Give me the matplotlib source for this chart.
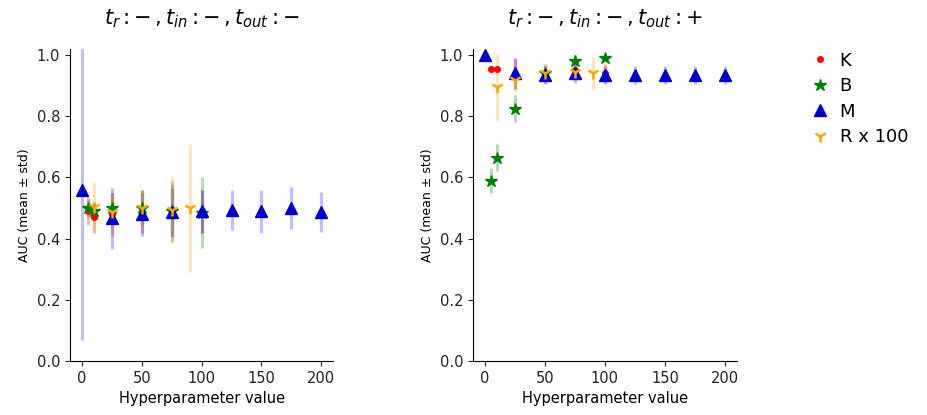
import matplotlib
matplotlib.use("Agg")
import matplotlib.pyplot as plt
from matplotlib.colors import to_rgba
from matplotlib.lines import Line2D

titles = [r"$t_r: -\,, t_{in}: -\,, t_{out}: -$", r"$t_r: -\,, t_{in}: -\,, t_{out}: +$"]

# Left panel (t_out: -)
k_x_l = [5, 10, 25, 50, 75, 100]
k_y_l = [0.49, 0.47, 0.48, 0.49, 0.495, 0.49]
k_s_l = [0.045, 0.05, 0.07, 0.07, 0.085, 0.07]
b_x_l = [5, 10, 25, 50, 75, 100]
b_y_l = [0.50, 0.49, 0.50, 0.50, 0.49, 0.485]
b_s_l = [0.03, 0.03, 0.05, 0.06, 0.10, 0.115]
m_x_l = [0, 25, 50, 75, 100, 125, 150, 175, 200]
m_y_l = [0.56, 0.467, 0.48, 0.487, 0.49, 0.493, 0.49, 0.50, 0.487]
m_s_l = [0.49, 0.10, 0.07, 0.08, 0.07, 0.065, 0.07, 0.07, 0.065]
r_x_l = [10, 25, 50, 75, 90]
r_y_l = [0.505, 0.487, 0.50, 0.495, 0.50]
r_s_l = [0.08, 0.06, 0.06, 0.11, 0.21]

# Right panel (t_out: +)
k_x_r = [5, 10, 25, 50, 75, 100]
k_y_r = [0.955, 0.955, 0.94, 0.94, 0.95, 0.94]
k_s_r = [0.005, 0.005, 0.05, 0.03, 0.03, 0.03]
b_x_r = [5, 10, 25, 50, 75, 100]
b_y_r = [0.59, 0.665, 0.825, 0.94, 0.98, 0.99]
b_s_r = [0.04, 0.045, 0.045, 0.02, 0.02, 0.01]
m_x_r = [0, 25, 50, 75, 100, 125, 150, 175, 200]
m_y_r = [1.0, 0.94, 0.935, 0.94, 0.935, 0.935, 0.935, 0.935, 0.935]
m_s_r = [0.002, 0.05, 0.03, 0.03, 0.03, 0.03, 0.03, 0.03, 0.03]
r_x_r = [10, 25, 50, 75, 90]
r_y_r = [0.895, 0.92, 0.94, 0.945, 0.94]
r_s_r = [0.11, 0.04, 0.03, 0.03, 0.055]

labels = ["K", "B", "M", "R x 100"]
colors = ["red", "green", "mediumblue", "orange"]
markers = ["o", "*", "^", "1"]
msizes = [4, 9, 9, 9]

panels = [
    [(k_x_l, k_y_l, k_s_l), (b_x_l, b_y_l, b_s_l), (m_x_l, m_y_l, m_s_l), (r_x_l, r_y_l, r_s_l)],
    [(k_x_r, k_y_r, k_s_r), (b_x_r, b_y_r, b_s_r), (m_x_r, m_y_r, m_s_r), (r_x_r, r_y_r, r_s_r)],
]

fig = plt.figure(figsize=(9.27, 4.15), dpi=100)
ax1 = fig.add_axes([0.0755, 0.130, 0.284, 0.752])
ax2 = fig.add_axes([0.510, 0.130, 0.285, 0.752])
axes = [ax1, ax2]

for ax, series, title in zip(axes, panels, titles):
    for (x, y, s), lab, c, mk, ms in zip(series, labels, colors, markers, msizes):
        ecol = to_rgba("blue", 0.25) if c == "mediumblue" else to_rgba(c, 0.28)
        ax.errorbar(x, y, yerr=s, fmt=mk, color=c, ecolor=ecol,
                    elinewidth=2.3, markersize=ms, markeredgewidth=1.8 if mk == "1" else 1.0,
                    linestyle="none", label=lab)
    ax.set_xlim(-10, 210)
    ax.set_ylim(0, 1.02)
    ax.set_xticks([0, 50, 100, 150, 200])
    ax.set_yticks([0.0, 0.2, 0.4, 0.6, 0.8, 1.0])
    ax.spines["top"].set_visible(False)
    ax.spines["right"].set_visible(False)
    ax.tick_params(labelsize=10.5, colors="#222222")
    ax.set_xlabel("Hyperparameter value", fontsize=10.5)
    ax.set_ylabel("AUC (mean ± std)", fontsize=9)
    ax.set_title(title, fontsize=15, pad=18)

handles = [Line2D([], [], marker=mk, color=c, linestyle="none", markersize=ms,
                  markeredgewidth=1.8 if mk == "1" else 1.0)
           for c, mk, ms in zip(colors, markers, msizes)]
fig.legend(handles=handles, labels=labels, loc="upper left", bbox_to_anchor=(0.855, 0.915),
           frameon=False, fontsize=13, handletextpad=0.5, labelspacing=0.42,
           handlelength=1.2)

fig.savefig("out.png", dpi=100)
